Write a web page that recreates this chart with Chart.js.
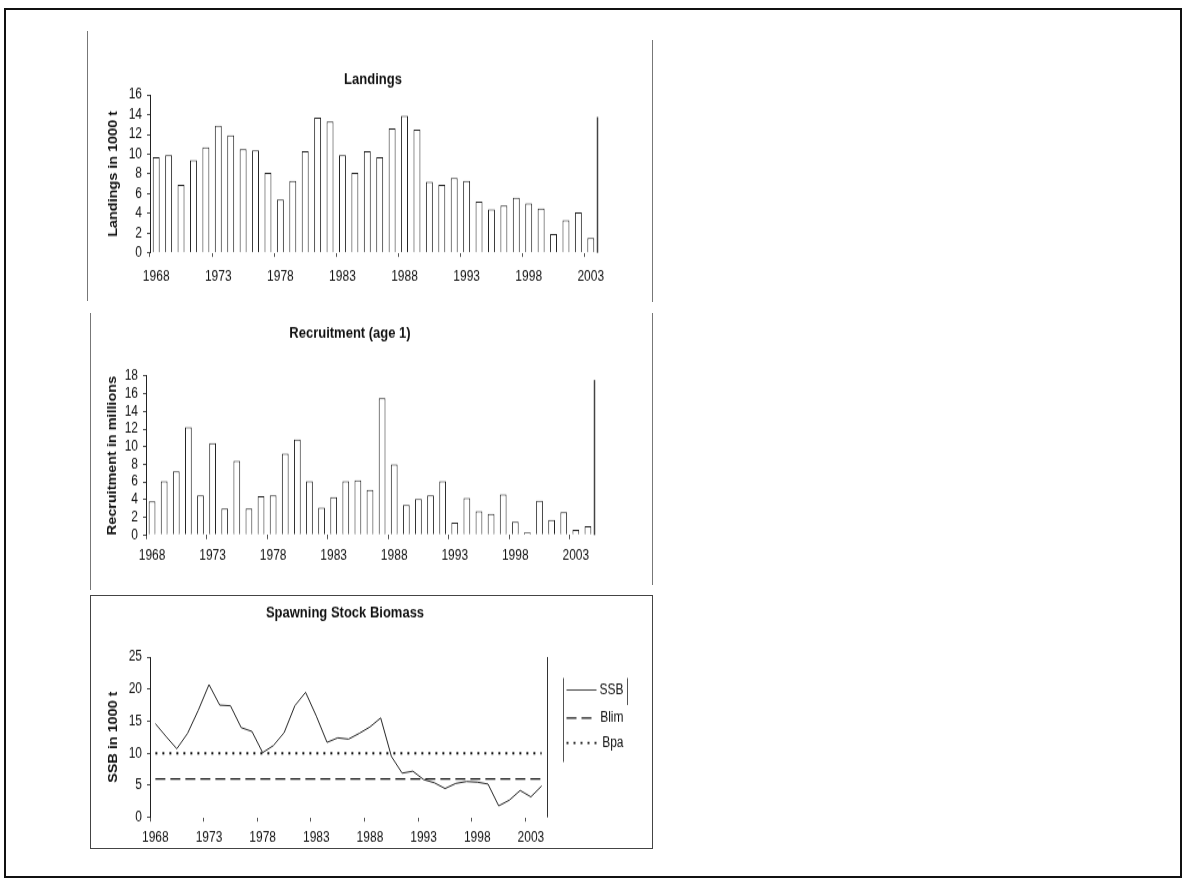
<!DOCTYPE html>
<html>
<head>
<meta charset="utf-8">
<title>Landings, Recruitment and Spawning Stock Biomass</title>
<script src="https://cdn.jsdelivr.net/npm/chart.js@4.4.1/dist/chart.umd.min.js"></script>
<style>
  html, body { margin: 0; padding: 0; background: #fff; }
  body { width: 1188px; height: 884px; position: relative; overflow: hidden; }
  .page { position: absolute; left: 4px; top: 8px; width: 1174px; height: 866px; border: 2px solid #111; }
  .vline { position: absolute; width: 1px; background: #777; }
  .ssbframe { position: absolute; left: 90px; top: 595px; width: 561px; height: 252px; border: 1px solid #444; }
  .holder { position: absolute; }
  canvas { display: block; transform-origin: 0 0; }
</style>
</head>
<body>
<div class="page"></div>
<div class="vline" style="left:87px;top:31px;height:270px"></div>
<div class="vline" style="left:652px;top:40px;height:262px"></div>
<div class="vline" style="left:90px;top:313px;height:277px"></div>
<div class="vline" style="left:652px;top:313px;height:272px"></div>
<div class="ssbframe"></div>

<div class="holder" style="left:90px;top:30px"><canvas id="landings"></canvas></div>
<div class="holder" style="left:52px;top:315px"><canvas id="recruitment"></canvas></div>
<div class="holder" style="left:40px;top:597px"><canvas id="ssb"></canvas></div>

<script>
// ---- data ----
const landingYears = ['1968','1969','1970','1971','1972','1973','1974','1975','1976','1977',
  '1978','1979','1980','1981','1982','1983','1984','1985','1986','1987',
  '1988','1989','1990','1991','1992','1993','1994','1995','1996','1997',
  '1998','1999','2000','2001','2002','2003'];
const landings = [9.7, 9.9, 6.9, 9.4, 10.7, 12.9, 11.9, 10.5, 10.4, 8.1,
  5.4, 7.3, 10.3, 13.7, 13.3, 9.9, 8.1, 10.3, 9.7, 12.6,
  13.9, 12.5, 7.2, 6.9, 7.6, 7.3, 5.2, 4.4, 4.8, 5.6,
  5.0, 4.5, 1.9, 3.3, 4.1, 1.5];

const stockYears = ['1968','1969','1970','1971','1972','1973','1974','1975','1976','1977',
  '1978','1979','1980','1981','1982','1983','1984','1985','1986','1987',
  '1988','1989','1990','1991','1992','1993','1994','1995','1996','1997',
  '1998','1999','2000','2001','2002','2003','2004'];
const recruitment = [3.8, 6.1, 7.2, 12.2, 4.5, 10.4, 3.0, 8.4, 3.0, 4.4,
  4.5, 9.2, 10.8, 6.1, 3.1, 4.3, 6.1, 6.2, 5.1, 15.5,
  8.0, 3.4, 4.1, 4.5, 6.1, 1.4, 4.2, 2.7, 2.4, 4.6,
  1.5, 0.3, 3.9, 1.7, 2.6, 0.6, 1.0];
const ssb = [14.6, 12.6, 10.7, 13.1, 16.7, 20.7, 17.5, 17.4, 14.0, 13.4,
  10.1, 11.2, 13.2, 17.4, 19.5, 15.8, 11.7, 12.4, 12.2, 13.1,
  14.1, 15.5, 9.5, 6.9, 7.2, 5.9, 5.4, 4.5, 5.3, 5.6,
  5.5, 5.2, 1.8, 2.7, 4.2, 3.2, 4.9];
const BLIM = 6;
const BPA = 10;
const blimLine = stockYears.map(() => BLIM);
const bpaLine = stockYears.map(() => BPA);

const landingTicks = [0, 2, 4, 6, 8, 10, 12, 14, 16];
const recruitTicks = [0, 2, 4, 6, 8, 10, 12, 14, 16, 18];
const ssbTicks = [0, 5, 10, 15, 20, 25];

// ---- shared styling ----
const FONT = '"Liberation Sans", Arial, sans-serif';
const INK = '#111';
const K = 1.2;            // vertical stretch of the printed figure
const TITLE_LH = 13 * 1.2;
const TICK_HALF = 12 * 1.2 / 2;
const X_TICK_LEN = 3.5;
Chart.defaults.font.family = FONT;
Chart.defaults.color = INK;
Chart.defaults.animation = false;

// vertical edge on the right side of the plot area
const plotEdge = {
  id: 'plotEdge',
  afterDatasetsDraw(chart, args, opts) {
    const { ctx, chartArea: a } = chart;
    const x = Math.round(a.right) + 0.5;
    ctx.save();
    ctx.strokeStyle = opts.color || '#333';
    ctx.lineWidth = opts.width || 1;
    ctx.beginPath();
    ctx.moveTo(x, a.top + (opts.inset || 0) / K);
    ctx.lineTo(x, a.bottom);
    ctx.stroke();
    ctx.restore();
  }
};

// legend drawn beside the plot: sample line on the left, name right-aligned
const sideLegend = {
  id: 'sideLegend',
  afterDraw(chart, args, o) {
    const { ctx, chartArea: a } = chart;
    const L = Math.round(a.right + o.gap) + 0.5;
    const R = L + o.width;
    const top = a.top + o.top / K;
    ctx.save();
    ctx.strokeStyle = '#555';
    ctx.lineWidth = 1;
    ctx.beginPath();
    ctx.moveTo(L, top); ctx.lineTo(L, top + o.height / K);
    ctx.moveTo(R, top); ctx.lineTo(R, top + o.rightHeight / K);
    ctx.stroke();
    ctx.font = '12px ' + FONT;
    ctx.textAlign = 'right';
    ctx.textBaseline = 'middle';
    ctx.fillStyle = INK;
    chart.data.datasets.forEach((ds, i) => {
      const y = top + o.rows[i] / K;
      ctx.save();
      ctx.strokeStyle = ds.borderColor;
      ctx.lineWidth = ds.borderWidth / K;
      ctx.setLineDash(ds.borderDash || []);
      ctx.beginPath();
      ctx.moveTo(L + 3, y);
      ctx.lineTo(L + o.sample, y);
      ctx.stroke();
      ctx.restore();
      ctx.fillText(ds.label, R - 4, y);
    });
    ctx.restore();
  }
};

// size the canvas and apply the vertical stretch
function prepCanvas(id, g) {
  const c = document.getElementById(id);
  c.width = g.width;
  c.height = Math.round(g.height / K);
  c.style.transform = 'scaleY(' + K + ')';
  return c;
}

function yAxis(ticksList, width, titleText, titleOffset) {
  return {
    min: ticksList[0],
    max: ticksList[ticksList.length - 1],
    afterFit: s => { s.width = width; },
    afterBuildTicks: s => { s.ticks = ticksList.map(v => ({ value: v })); },
    border: { display: true, color: '#222', width: 1 },
    grid: { drawOnChartArea: false, tickLength: 3, color: '#444' },
    ticks: { autoSkip: false, padding: 5, font: { size: 12 }, color: INK },
    title: {
      display: true, text: titleText, color: INK,
      font: { size: 12, weight: 'bold' },
      padding: { top: titleOffset, bottom: 0 }
    }
  };
}

// empty axis that reserves the space right of the plot
function spacerAxis(width) {
  return {
    type: 'linear', position: 'right', display: true,
    afterFit: s => { s.width = width; },
    grid: { display: false, drawTicks: false },
    border: { display: false },
    ticks: { display: false }
  };
}

function xAxis(labels, g) {
  const h = (g.top + g.height - g.areaBottom) / K;
  const pad = (g.labelY - g.areaBottom) / K - X_TICK_LEN - TICK_HALF;
  return {
    type: 'category',
    offset: true,
    afterFit: s => { s.height = h; },
    border: { display: false },
    grid: {
      offset: true, drawOnChartArea: false, tickLength: X_TICK_LEN,
      color: c => (c.index % 5 === 0 ? '#555' : 'rgba(0,0,0,0)')
    },
    ticks: {
      autoSkip: false, maxRotation: 0, minRotation: 0, padding: pad,
      font: { size: 12 }, color: INK,
      callback: (v, i) => (i % 5 === 0 ? labels[i] : '')
    }
  };
}

function titleOpts(text, g) {
  const top = (g.titleY - g.top) / K - TITLE_LH / 2;
  const bottom = (g.areaTop - g.top) / K - top - TITLE_LH;
  return {
    display: true, text: text, color: INK,
    font: { size: 13, weight: 'bold' },
    padding: { top: top, bottom: bottom }
  };
}

function barChart(id, labels, values, ticksList, yTitle, g) {
  return new Chart(prepCanvas(id, g), {
    type: 'bar',
    data: {
      labels: labels,
      datasets: [{
        label: g.title,
        data: values,
        yAxisID: 'y',
        backgroundColor: '#fff',
        borderColor: '#222',
        borderWidth: 1,
        barPercentage: 0.56,
        categoryPercentage: 1
      }]
    },
    options: {
      responsive: false,
      layout: { padding: 0 },
      scales: {
        x: xAxis(labels, g),
        y: yAxis(ticksList, g.yw, yTitle, g.ytitle),
        yr: spacerAxis(g.right)
      },
      plugins: {
        legend: { display: false },
        tooltip: { enabled: false },
        title: titleOpts(g.title, g),
        plotEdge: { inset: g.edgeInset, color: '#444', width: 1.5 }
      }
    },
    plugins: [plotEdge]
  });
}

barChart('landings', landingYears, landings, landingTicks, 'Landings in 1000 t', {
  title: 'Landings', width: 566, top: 30, height: 275,
  titleY: 80, areaTop: 95, areaBottom: 253, labelY: 277,
  right: 59, yw: 60, ytitle: 16, edgeInset: 22
});

barChart('recruitment', stockYears, recruitment, recruitTicks, 'Recruitment in millions', {
  title: 'Recruitment (age 1)', width: 596, top: 315, height: 270,
  titleY: 333, areaTop: 376, areaBottom: 535, labelY: 556,
  right: 54, yw: 94, ytitle: 53, edgeInset: 4
});

const ssbGeo = {
  width: 610, top: 597, height: 248,
  titleY: 613, areaTop: 657, areaBottom: 817, labelY: 838
};
new Chart(prepCanvas('ssb', ssbGeo), {
  type: 'line',
  data: {
    labels: stockYears,
    datasets: [
      { label: 'SSB', data: ssb, yAxisID: 'y', borderColor: '#222', borderWidth: 1, pointRadius: 0, tension: 0, fill: false },
      { label: 'Blim', data: blimLine, yAxisID: 'y', borderColor: '#111', borderWidth: 1.4, borderDash: [10, 5], pointRadius: 0, fill: false },
      { label: 'Bpa', data: bpaLine, yAxisID: 'y', borderColor: '#111', borderWidth: 2, borderDash: [2, 5], pointRadius: 0, fill: false }
    ]
  },
  options: {
    responsive: false,
    layout: { padding: 0 },
    scales: {
      x: xAxis(stockYears, ssbGeo),
      y: yAxis(ssbTicks, 110, 'SSB in 1000 t', 66),
      yr: spacerAxis(103)
    },
    plugins: {
      legend: { display: false },
      tooltip: { enabled: false },
      title: titleOpts('Spawning Stock Biomass', ssbGeo),
      plotEdge: { inset: 0, color: '#333', width: 1 },
      sideLegend: { gap: 16, width: 64, top: 21, height: 84, rightHeight: 27, rows: [12, 40, 65], sample: 33 }
    }
  },
  plugins: [plotEdge, sideLegend]
});
</script>
</body>
</html>
